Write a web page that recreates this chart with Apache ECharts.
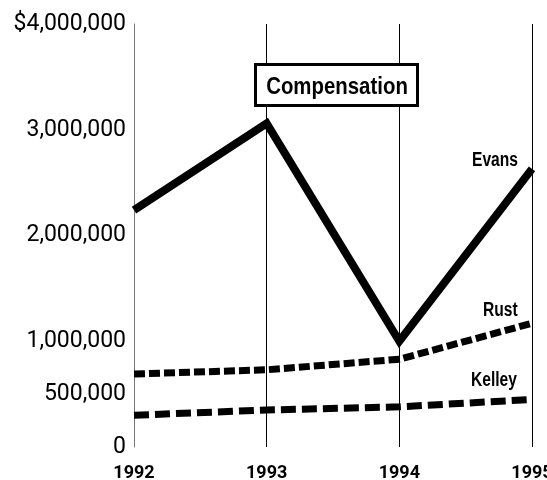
<!DOCTYPE html>
<html>
<head>
<meta charset="utf-8">
<script src="https://cdn.jsdelivr.net/npm/echarts@6/dist/echarts.min.js"></script>
<style>html,body{margin:0;padding:0;background:#fff;}#c{width:547px;height:480px;}</style>
</head>
<body>
<div id="c"></div>
<script>
var years = ['1992', '1993', '1994', '1995'];
var evans = [2240000, 3060000, 1000000, 2630000];
var rust = [690000, 730000, 830000, 1170000];
var kelley = [300000, 350000, 380000, 450000];
var yTickLabels = {0: '0', 500000: '500,000', 1000000: '1,000,000', 2000000: '2,000,000', 3000000: '3,000,000', 4000000: '$4,000,000'};
var chartTitle = 'Compensation';
var seriesNames = ['Evans', 'Rust', 'Kelley'];

var chart = echarts.init(document.getElementById('c'), null, {renderer: 'canvas'});

function lineSeries(name, data, dash, w) {
  return {
    name: name, type: 'line', data: data, symbol: 'none', silent: true,
    lineStyle: {color: '#000', width: w, type: dash, cap: 'butt', join: 'miter'},
    z: 3
  };
}

function condensedText(str, x, y, size, sx, align) {
  return {
    type: 'text', x: x, y: y, scaleX: sx, z: 10,
    style: {text: str, x: 0, y: 0, fontSize: size, fontFamily: 'Liberation Sans', fontWeight: 'bold',
      fill: '#000', align: align || 'left', verticalAlign: 'middle'}
  };
}

chart.setOption({
  backgroundColor: '#fff',
  animation: false,
  grid: {left: 134, right: 15, top: 24, bottom: 33, containLabel: false, outerBoundsMode: 'none'},
  xAxis: {
    type: 'category', data: years, boundaryGap: false,
    axisLine: {show: false}, axisTick: {show: false},
    axisLabel: {fontFamily: 'Roboto', fontWeight: 'bold', fontSize: 18, color: '#000', margin: 17, interval: 0,
      hideOverlap: false},
    splitLine: {show: true, lineStyle: {color: '#000', width: 1}}
  },
  yAxis: {
    type: 'value', min: 0, max: 4000000, interval: 500000,
    axisLine: {show: true, lineStyle: {color: '#777', width: 1}},
    axisTick: {show: false},
    splitLine: {show: false},
    axisLabel: {
      fontFamily: 'Roboto', fontSize: 23, color: '#000', margin: 8,
      formatter: function (v) { return yTickLabels[v] !== undefined ? yTickLabels[v] : ''; }
    }
  },
  series: [
    lineSeries(seriesNames[0], evans, 'solid', 8),
    lineSeries(seriesNames[1], rust, [11, 4], 7),
    lineSeries(seriesNames[2], kelley, [15, 6], 7)
  ],
  graphic: [
    {type: 'rect', z: 9, shape: {x: 255.5, y: 64.5, width: 162, height: 41},
      style: {fill: '#fff', stroke: '#000', lineWidth: 3}},
    condensedText(chartTitle, 337, 87, 24, 0.85, 'center'),
    condensedText(seriesNames[0], 472, 160, 20, 0.78),
    condensedText(seriesNames[1], 483, 310, 20, 0.78),
    condensedText(seriesNames[2], 471, 380, 20, 0.78)
  ]
});
</script>
</body>
</html>
